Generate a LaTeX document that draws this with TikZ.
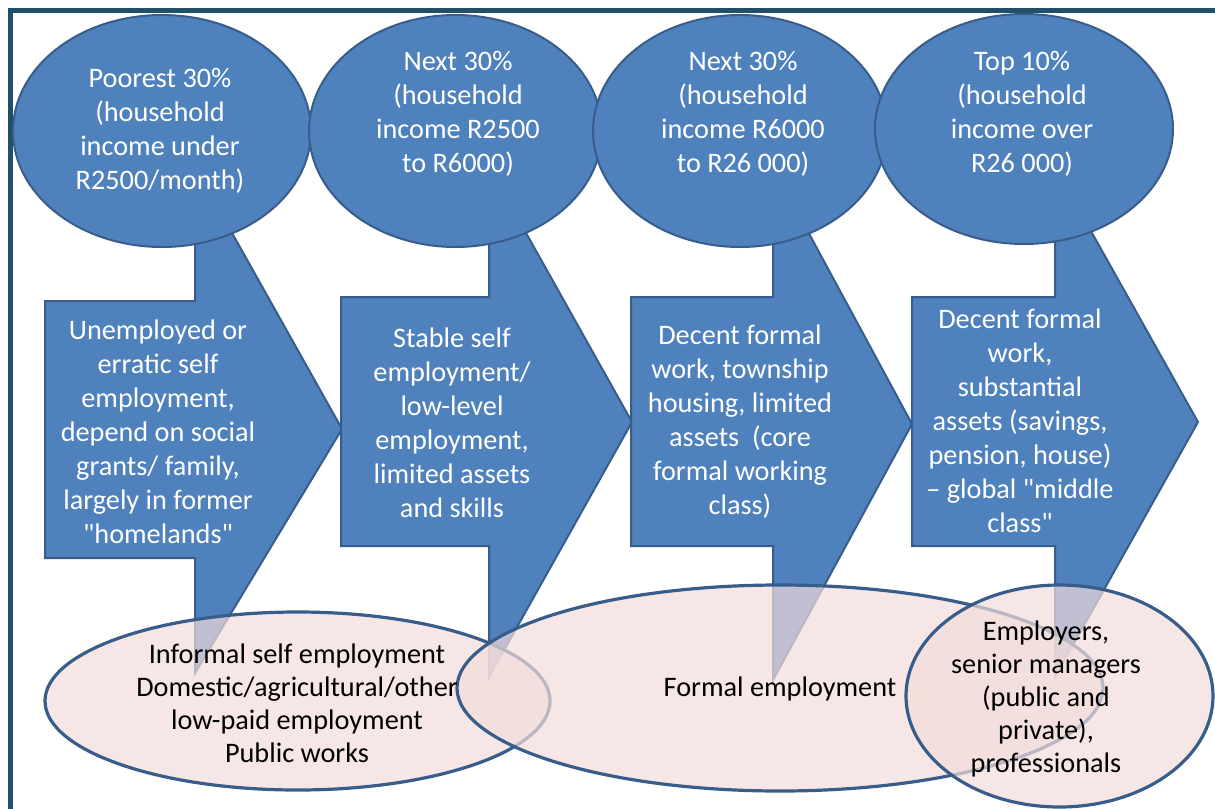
\documentclass[tikz,border=0pt]{standalone}
\usepackage{fontspec}
\setmainfont{Carlito}[Ligatures=TeXOff]
\definecolor{blueFill}{RGB}{79,129,189}
\definecolor{blueLine}{RGB}{56,93,138}
\definecolor{pinkFill}{RGB}{242,220,219}
\definecolor{frameLine}{RGB}{31,80,104}

\begin{document}
\begin{tikzpicture}[x=0.75pt, y=-0.75pt,
        blueshape/.style={fill=blueFill, draw=blueLine, line width=1.5pt},
        pinkoval/.style={fill=pinkFill, fill opacity=0.7, draw=blueLine, line width=2.4pt},
        wtext/.style={text=white, align=center, font=\fontsize{21.2}{25.5}\selectfont},
        btext/.style={text=black, align=center, font=\fontsize{21.2}{24.8}\selectfont}]
        \useasboundingbox (0,0) rectangle (1215,808);
        \draw[frameLine, line width=3.75pt] (10.5,840) -- (10.5,10.5) -- (1240,10.5);

        % arrow shapes: box left/top/bottom, notch x, tip x/y, apex y, wedge y
        \foreach \bl/\bt/\bb/\nx/\tx/\ty/\ay/\wy in {45/301/558/195/342/429/167/673,
                341/297/546/489/632/422/167/677, 631/297/546/773/912/424/167/680,
                912/297/546/1055/1198/422/167/677}
            \draw[blueshape] (\bl,\bt) -- (\nx,\bt) -- (\nx,\ay) -- (\tx,\ty)
                -- (\nx,\wy) -- (\nx,\bb) -- (\bl,\bb) -- cycle;

        % income groups
        \draw[blueshape] (162,131) ellipse [x radius=149, y radius=116];
        \draw[blueshape] (455.5,131) ellipse [x radius=146.5, y radius=116];
        \draw[blueshape] (740,131) ellipse [x radius=147, y radius=116];
        \draw[blueshape] (1024,129) ellipse [x radius=149, y radius=115];

        % kinds of employment
        \draw[pinkoval] (297.5,701) ellipse [x radius=252.5, y radius=89];
        \draw[pinkoval] (780,688) ellipse [x radius=323, y radius=103];
        \draw[pinkoval] (1059.5,696) ellipse [x radius=153.5, y radius=111];

        \node[wtext] (poor) at (160,131) {Poorest 30\%\\(household\\income under\\R2500/month)};
        \node[wtext] (nextlow) at (458,114) {Next 30\%\\(household\\income R2500\\to R6000)};
        \node[wtext] (nexthigh) at (743,114) {Next 30\%\\(household\\income R6000\\to R26 000)};
        \node[wtext] (top) at (1022,114) {Top 10\%\\(household\\income over\\R26 000)};

        \node[wtext] (poorwork) at (158,432) {Unemployed or\\erratic self\\employment,\\depend on social\\grants/ family,\\largely in former\\"homelands"};
        \node[wtext] (lowwork) at (452,423) {Stable self\\employment/\\low-level\\employment,\\limited assets\\and skills};
        \node[wtext] (corework) at (740,422) {Decent formal\\work, township\\housing, limited\\assets\ \ (core\\formal working\\class)};
        \node[wtext] (topwork) at (1020,421) {Decent formal\\work,\\substantial\\assets (savings,\\pension, house)\\– global "middle\\class"};

        \node[btext] (informal) at (297,703) {Informal self employment\\Domestic/agricultural/other\\low-paid employment\\Public works};
        \node[btext] (formal) at (780,689) {Formal employment};
        \node[btext] (employers) at (1046,699) {Employers,\\senior managers\\(public and\\private),\\professionals};
\end{tikzpicture}
\end{document}
